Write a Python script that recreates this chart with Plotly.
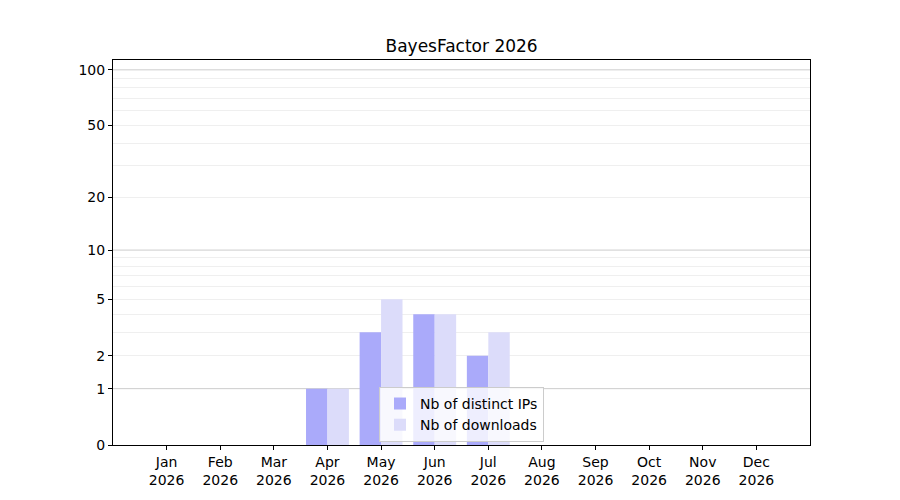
import numpy as np
import plotly.graph_objects as go

months = ["Jan", "Feb", "Mar", "Apr", "May", "Jun", "Jul", "Aug", "Sep", "Oct", "Nov", "Dec"]
year = "2026"
distinct_ips = [0, 0, 0, 1, 3, 4, 2, 0, 0, 0, 0, 0]
downloads = [0, 0, 0, 1, 5, 4, 3, 0, 0, 0, 0, 0]

y_labels = [0, 1, 2, 5, 10, 20, 50, 100]
y_major_grid = [1, 10, 100]
y_minor_grid = [2, 3, 4, 5, 6, 7, 8, 9, 20, 30, 40, 50, 60, 70, 80, 90]
y_top = 113


def tr(v):
    # log(1 + x) scale
    return np.log10(1 + np.asarray(v, dtype=float))


x = list(range(len(months)))
tick_text = [m + "<br>" + year for m in months]

fig = go.Figure()
fig.add_trace(go.Bar(x=x, y=tr(distinct_ips), name="Nb of distinct IPs",
                     marker=dict(color="#aaaafa", line=dict(width=0))))
fig.add_trace(go.Bar(x=x, y=tr(downloads), name="Nb of downloads",
                     marker=dict(color="#dcdcfa", line=dict(width=0))))

for v in y_major_grid:
    fig.add_shape(type="line", xref="paper", x0=0, x1=1, yref="y",
                  y0=float(tr(v)), y1=float(tr(v)), layer="below",
                  line=dict(color="#cccccc", width=1))

# page body has an 8px margin, so the margins are shifted by that
fig.update_layout(
    width=900, height=500,
    paper_bgcolor="white", plot_bgcolor="white",
    margin=dict(l=105, r=98, t=52, b=63),
    font=dict(family="DejaVu Sans", size=14, color="black"),
    title=dict(text="BayesFactor 2026", x=0.504, xanchor="center", y=0.924,
               yanchor="middle", font=dict(size=17)),
    barmode="group", bargap=0.2, bargroupgap=0,
    legend=dict(x=0.5, xanchor="center", y=0.008, yanchor="bottom",
                bgcolor="rgba(255,255,255,0.8)", bordercolor="#cccccc",
                borderwidth=1, font=dict(size=14), tracegroupgap=0),
    showlegend=True,
)
fig.update_xaxes(
    range=[-1, 12], tickmode="array", tickvals=x, ticktext=tick_text,
    showgrid=False, zeroline=False, showline=True, linecolor="black",
    linewidth=1, mirror=True, ticks="outside", ticklen=4, tickcolor="black",
)
fig.update_yaxes(
    range=[0, float(tr(y_top))], tickmode="array", tickvals=tr(y_labels),
    ticktext=[str(v) for v in y_labels], showgrid=False, zeroline=False,
    showline=True, linecolor="black", linewidth=1, mirror=True,
    ticks="outside", ticklen=4, tickcolor="black",
    minor=dict(tickmode="array", tickvals=tr(y_minor_grid), showgrid=True,
               gridcolor="#efefef", gridwidth=1, ticks=""),
)

fig.write_html("out.html")
